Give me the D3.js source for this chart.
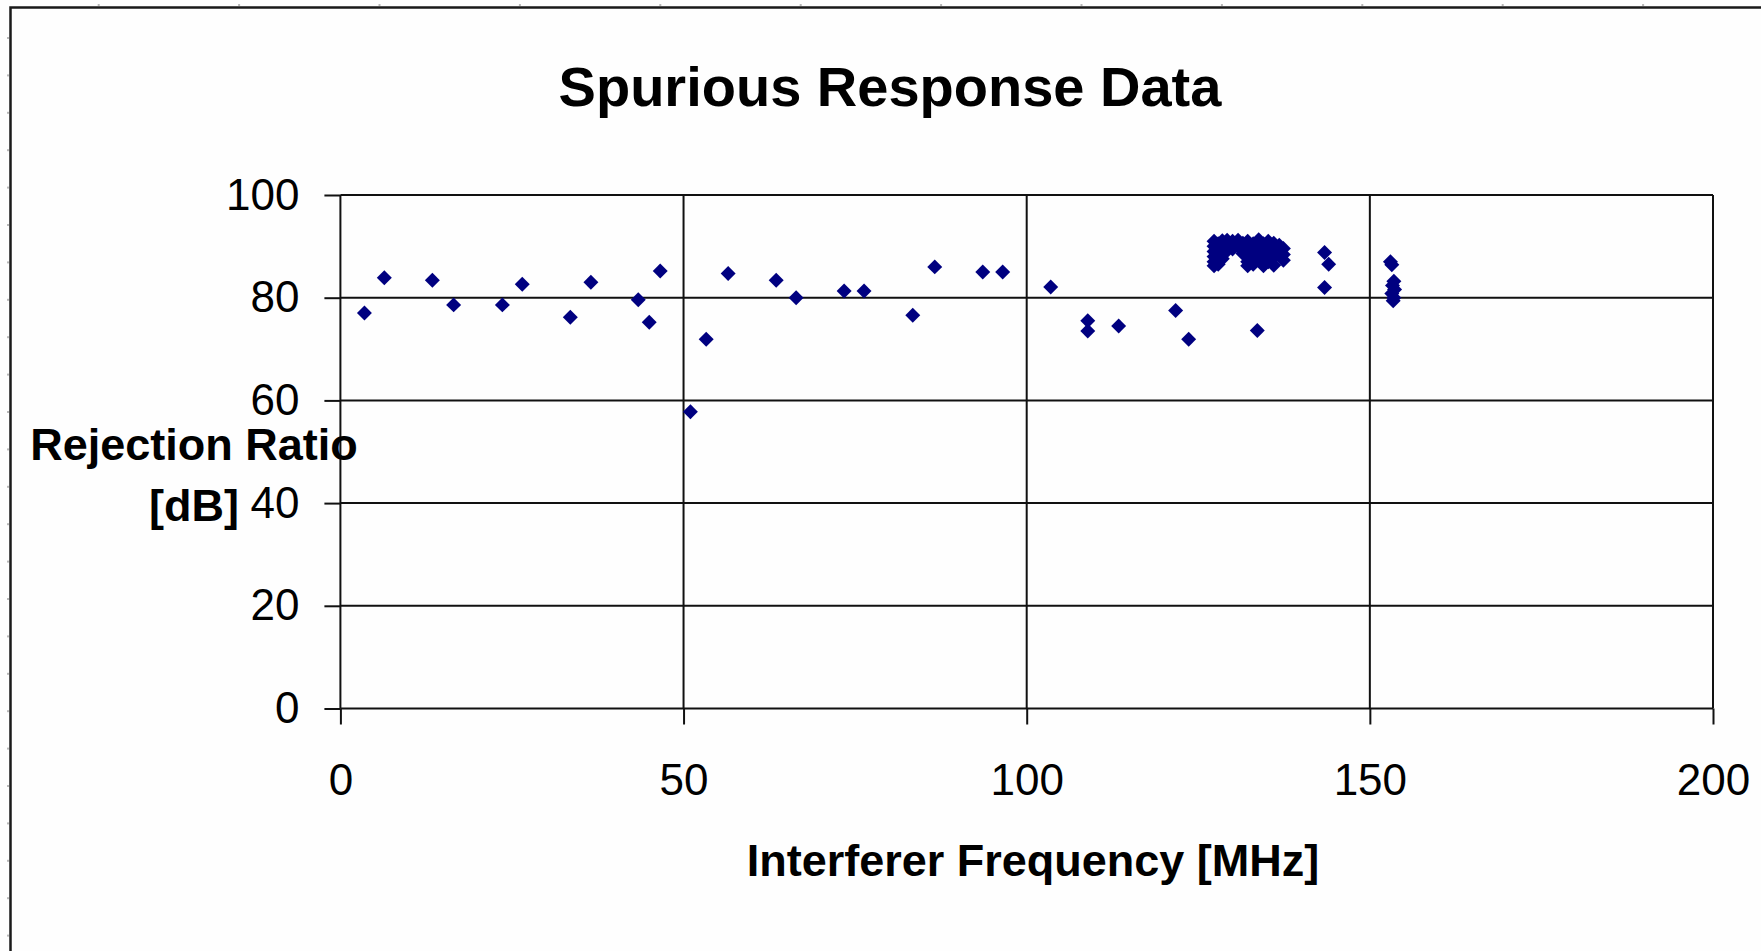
<!DOCTYPE html>
<html>
<head>
<meta charset="utf-8">
<script src="https://cdn.jsdelivr.net/npm/d3@7"></script>
<style>
  body { margin: 0; background: #fff; overflow: hidden; }
  text { font-family: "Liberation Sans", Arial, sans-serif; fill: #000; }
</style>
</head>
<body>
<div id="chart"></div>
<script>

// readings taken off the chart: interferer frequency [MHz] and rejection [dB]
var freqMHz = [
  3.5, 6.4, 13.4, 16.5, 23.6, 26.5, 33.5, 36.5, 43.4, 45.0, 46.6, 51.0, 53.3, 56.5, 63.5, 66.4,
  73.4, 76.3, 83.4, 86.6, 93.6, 96.5, 103.5, 108.9, 108.9, 113.4, 121.7, 123.6, 133.6,
  143.4, 144.0, 143.4,
  153.0, 153.2, 153.5, 153.3, 153.6, 153.2, 153.5, 153.4
];
var rejectionDb = [
  77.0, 83.9, 83.4, 78.6, 78.6, 82.6, 76.2, 83.0, 79.6, 75.2, 85.2, 57.8, 71.9, 84.7, 83.4, 80.0,
  81.3, 81.3, 76.6, 86.0, 85.0, 85.0, 82.1, 75.5, 73.5, 74.5, 77.5, 71.9, 73.6,
  88.8, 86.5, 82.0,
  87.0, 86.4, 83.2, 82.4, 81.6, 80.8, 80.0, 79.4
];

// the dense group of readings between 127 and 138 MHz
var clusterFreq = [
  127.3, 127.3, 127.3, 127.3, 127.3, 127.3, 127.9, 127.9, 127.9, 128.5, 128.5, 128.5, 128.8,
  129.2, 129.2, 130.0, 130.0, 130.8, 130.8, 131.5, 131.5, 132.2, 132.2, 132.2, 132.2,
  133.0, 133.0, 133.0, 133.8, 133.8, 133.8, 134.5, 134.5, 134.5, 135.2, 135.2, 135.2,
  136.0, 136.0, 136.0, 136.8, 136.8, 137.4, 137.4, 137.4
];
var clusterDb = [
  91.0, 90.0, 89.0, 88.0, 87.0, 86.2, 90.5, 88.5, 86.5, 91.1, 89.6, 87.6, 88.6,
  91.2, 90.3, 91.0, 89.5, 91.2, 90.0, 90.6, 88.6, 91.0, 89.0, 87.0, 86.2,
  90.5, 88.0, 86.5, 91.3, 89.5, 87.5, 90.5, 88.2, 86.2, 91.0, 89.0, 87.0,
  90.6, 88.0, 86.3, 90.2, 89.0, 89.6, 88.4, 87.3
];

var xTicks = [0, 50, 100, 150, 200];
var yTicks = [0, 20, 40, 60, 80, 100];

var chartTitle = "Spurious Response Data";
var xTitle = "Interferer Frequency [MHz]";
var yTitle = ["Rejection Ratio", "[dB]"];

var width = 1761, height = 951;

var points = freqMHz.map(function(f, i) { return { f: f, v: rejectionDb[i] }; })
  .concat(clusterFreq.map(function(f, i) { return { f: f, v: clusterDb[i] }; }));

var svg = d3.select("#chart")
  .append("svg")
    .attr("width", width)
    .attr("height", height);

svg.append("rect")
  .attr("width", width).attr("height", height)
  .attr("fill", "#fefefe");

// faint sheet marks along the top and left edges
svg.selectAll("rect.colmark")
  .data(d3.range(98.7, width, 140.4))
  .join("rect")
    .attr("x", function(d) { return d - 1; })
    .attr("y", 4).attr("width", 2).attr("height", 2)
    .attr("fill", "#b8b8b8");
svg.selectAll("rect.rowmark")
  .data(d3.range(38, height, 37.4))
  .join("rect")
    .attr("x", 7).attr("y", function(d) { return d - 1; })
    .attr("width", 2).attr("height", 2)
    .attr("fill", "#b8b8b8");

// chart border (runs off the right and bottom of the picture)
svg.append("rect")
  .attr("x", 10.5).attr("y", 7.5)
  .attr("width", width + 50).attr("height", height + 50)
  .attr("fill", "none")
  .attr("stroke", "#1a1a1a")
  .attr("stroke-width", 2.5);

var x = d3.scaleLinear().domain([0, 200]).range([340.4, 1713]);
var y = d3.scaleLinear().domain([0, 100]).range([708.5, 195]);

// gridlines
svg.append("g").selectAll("line")
  .data(yTicks)
  .join("line")
    .attr("x1", x(0)).attr("x2", x(200))
    .attr("y1", function(d) { return y(d); })
    .attr("y2", function(d) { return y(d); })
    .attr("stroke", "#111").attr("stroke-width", 2);
svg.append("g").selectAll("line")
  .data(xTicks)
  .join("line")
    .attr("y1", y(0)).attr("y2", y(100))
    .attr("x1", function(d) { return x(d); })
    .attr("x2", function(d) { return x(d); })
    .attr("stroke", "#111").attr("stroke-width", 2);

// axes: outside ticks + labels
var xAxis = svg.append("g")
  .attr("transform", "translate(0," + y(0) + ")")
  .call(d3.axisBottom(x).tickValues(xTicks).tickSize(16).tickPadding(39).tickFormat(d3.format("d")));
var yAxis = svg.append("g")
  .attr("transform", "translate(" + x(0) + ",0)")
  .call(d3.axisLeft(y).tickValues(yTicks).tickSize(16).tickPadding(25).tickFormat(d3.format("d")));

[xAxis, yAxis].forEach(function(ax) {
  ax.select(".domain").remove();
  ax.selectAll(".tick line").attr("stroke", "#111").attr("stroke-width", 2);
  ax.selectAll(".tick text")
    .attr("fill", "#000")
    .style("font-family", '"Liberation Sans", Arial, sans-serif')
    .style("font-size", "44px");
});

// markers
svg.append("g").selectAll("path")
  .data(points)
  .join("path")
    .attr("d", d3.symbol(d3.symbolSquare, 112))
    .attr("transform", function(d) { return "translate(" + x(d.f) + "," + y(d.v) + ") rotate(45)"; })
    .attr("fill", "#000080");

// titles
svg.append("text")
  .attr("x", 890).attr("y", 106)
  .attr("text-anchor", "middle")
  .style("font-size", "56px").style("font-weight", "bold")
  .text(chartTitle);

svg.append("text")
  .attr("x", 1033).attr("y", 876)
  .attr("text-anchor", "middle")
  .style("font-size", "45px").style("font-weight", "bold")
  .text(xTitle);

svg.append("g").selectAll("text")
  .data(yTitle)
  .join("text")
    .attr("x", 194)
    .attr("y", function(d, i) { return 460 + i * 61; })
    .attr("text-anchor", "middle")
    .style("font-size", "45px").style("font-weight", "bold")
    .text(function(d) { return d; });

</script>
</body>
</html>
